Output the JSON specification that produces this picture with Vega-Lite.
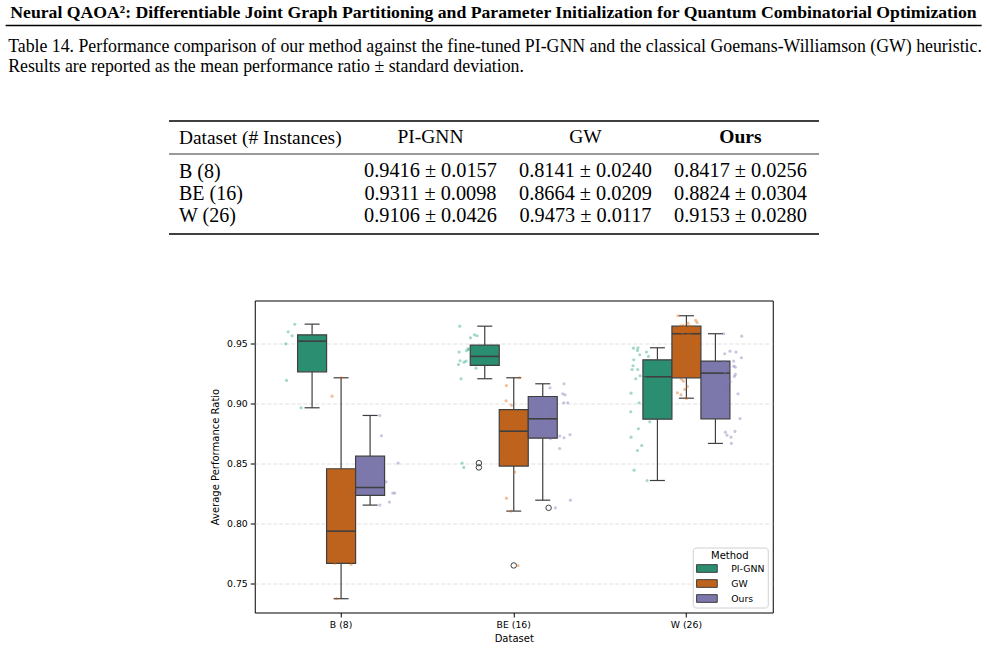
{
  "$schema": "https://vega.github.io/schema/vega-lite/v6.json",
  "background": "white",
  "padding": {"left": 5, "top": 4, "right": 0, "bottom": 0},
  "title": {
    "text": "Neural QAOA²: Differentiable Joint Graph Partitioning and Parameter Initialization for Quantum Combinatorial Optimization",
    "font": "Liberation Serif", "fontSize": 17.7, "fontWeight": "bold", "color": "#000",
    "anchor": "middle", "offset": 3
  },
  "config": {
    "view": {"stroke": null},
    "axis": {"labelColor": "#000", "titleColor": "#000", "tickColor": "#000"}
  },
  "datasets": {
    "thead": [
      {"hdr": "Dataset (# Instances)", "method": "PI-GNN"},
      {"hdr": "Dataset (# Instances)", "method": "GW"},
      {"hdr": "Dataset (# Instances)", "method": "Ours"}
    ],
    "tbody": [
      {"dataset": "B (8)", "method": "PI-GNN", "result": "0.9416 ± 0.0157"},
      {"dataset": "B (8)", "method": "GW", "result": "0.8141 ± 0.0240"},
      {"dataset": "B (8)", "method": "Ours", "result": "0.8417 ± 0.0256"},
      {"dataset": "BE (16)", "method": "PI-GNN", "result": "0.9311 ± 0.0098"},
      {"dataset": "BE (16)", "method": "GW", "result": "0.8664 ± 0.0209"},
      {"dataset": "BE (16)", "method": "Ours", "result": "0.8824 ± 0.0304"},
      {"dataset": "W (26)", "method": "PI-GNN", "result": "0.9106 ± 0.0426"},
      {"dataset": "W (26)", "method": "GW", "result": "0.9473 ± 0.0117"},
      {"dataset": "W (26)", "method": "Ours", "result": "0.9153 ± 0.0280"}
    ],
    "boxes": [
      {"dataset": "B (8)", "method": "PI-GNN", "lo": 0.8964, "q1": 0.9264, "median": 0.9519, "q3": 0.9572, "hi": 0.9661},
      {"dataset": "B (8)", "method": "GW", "lo": 0.7373, "q1": 0.7667, "median": 0.7936, "q3": 0.8456, "hi": 0.9214},
      {"dataset": "B (8)", "method": "Ours", "lo": 0.8153, "q1": 0.8234, "median": 0.83, "q3": 0.8561, "hi": 0.89},
      {"dataset": "BE (16)", "method": "PI-GNN", "lo": 0.9206, "q1": 0.9317, "median": 0.9392, "q3": 0.9486, "hi": 0.9644},
      {"dataset": "BE (16)", "method": "GW", "lo": 0.8103, "q1": 0.8478, "median": 0.8769, "q3": 0.8948, "hi": 0.9214},
      {"dataset": "BE (16)", "method": "Ours", "lo": 0.8194, "q1": 0.8711, "median": 0.8872, "q3": 0.9058, "hi": 0.9164},
      {"dataset": "W (26)", "method": "PI-GNN", "lo": 0.8358, "q1": 0.8869, "median": 0.9222, "q3": 0.9364, "hi": 0.9464},
      {"dataset": "W (26)", "method": "GW", "lo": 0.9044, "q1": 0.9214, "median": 0.9581, "q3": 0.9644, "hi": 0.9731},
      {"dataset": "W (26)", "method": "Ours", "lo": 0.8667, "q1": 0.8872, "median": 0.9253, "q3": 0.9353, "hi": 0.9581}
    ],
    "fliers": [
      {"dataset": "BE (16)", "method": "PI-GNN", "value": 0.8503},
      {"dataset": "BE (16)", "method": "PI-GNN", "value": 0.8467},
      {"dataset": "BE (16)", "method": "GW", "value": 0.765},
      {"dataset": "BE (16)", "method": "Ours", "value": 0.813}
    ],
    "points": [
      {"dataset": "B (8)", "method": "PI-GNN", "value": 0.966, "jitter": 0.04},
      {"dataset": "B (8)", "method": "PI-GNN", "value": 0.9597, "jitter": -0.63},
      {"dataset": "B (8)", "method": "PI-GNN", "value": 0.9564, "jitter": -0.23},
      {"dataset": "B (8)", "method": "PI-GNN", "value": 0.9545, "jitter": 0.75},
      {"dataset": "B (8)", "method": "PI-GNN", "value": 0.9497, "jitter": -0.86},
      {"dataset": "B (8)", "method": "PI-GNN", "value": 0.929, "jitter": 0.8},
      {"dataset": "B (8)", "method": "PI-GNN", "value": 0.9192, "jitter": -0.79},
      {"dataset": "B (8)", "method": "PI-GNN", "value": 0.8964, "jitter": 0.67},
      {"dataset": "B (8)", "method": "GW", "value": 0.9214, "jitter": 0.0},
      {"dataset": "B (8)", "method": "GW", "value": 0.9061, "jitter": -0.9},
      {"dataset": "B (8)", "method": "GW", "value": 0.8254, "jitter": -0.4},
      {"dataset": "B (8)", "method": "GW", "value": 0.7992, "jitter": 0.3},
      {"dataset": "B (8)", "method": "GW", "value": 0.788, "jitter": 0.17},
      {"dataset": "B (8)", "method": "GW", "value": 0.7669, "jitter": -0.63},
      {"dataset": "B (8)", "method": "GW", "value": 0.7658, "jitter": 1.0},
      {"dataset": "B (8)", "method": "GW", "value": 0.7373, "jitter": -0.46},
      {"dataset": "B (8)", "method": "Ours", "value": 0.89, "jitter": -0.8},
      {"dataset": "B (8)", "method": "Ours", "value": 0.8731, "jitter": -0.63},
      {"dataset": "B (8)", "method": "Ours", "value": 0.8503, "jitter": 1.03},
      {"dataset": "B (8)", "method": "Ours", "value": 0.8347, "jitter": -0.17},
      {"dataset": "B (8)", "method": "Ours", "value": 0.8253, "jitter": 0.5},
      {"dataset": "B (8)", "method": "Ours", "value": 0.8253, "jitter": 0.7},
      {"dataset": "B (8)", "method": "Ours", "value": 0.8178, "jitter": 0.17},
      {"dataset": "B (8)", "method": "Ours", "value": 0.8153, "jitter": -0.8},
      {"dataset": "BE (16)", "method": "PI-GNN", "value": 0.9644, "jitter": -0.73},
      {"dataset": "BE (16)", "method": "PI-GNN", "value": 0.9572, "jitter": 0.74},
      {"dataset": "BE (16)", "method": "PI-GNN", "value": 0.9564, "jitter": 1.0},
      {"dataset": "BE (16)", "method": "PI-GNN", "value": 0.9547, "jitter": 0.34},
      {"dataset": "BE (16)", "method": "PI-GNN", "value": 0.9456, "jitter": 0.1},
      {"dataset": "BE (16)", "method": "PI-GNN", "value": 0.945, "jitter": 0.17},
      {"dataset": "BE (16)", "method": "PI-GNN", "value": 0.9439, "jitter": -0.06},
      {"dataset": "BE (16)", "method": "PI-GNN", "value": 0.9428, "jitter": -0.8},
      {"dataset": "BE (16)", "method": "PI-GNN", "value": 0.9356, "jitter": -0.7},
      {"dataset": "BE (16)", "method": "PI-GNN", "value": 0.9353, "jitter": -0.1},
      {"dataset": "BE (16)", "method": "PI-GNN", "value": 0.9344, "jitter": -0.3},
      {"dataset": "BE (16)", "method": "PI-GNN", "value": 0.9325, "jitter": -0.86},
      {"dataset": "BE (16)", "method": "PI-GNN", "value": 0.9294, "jitter": 0.9},
      {"dataset": "BE (16)", "method": "PI-GNN", "value": 0.9206, "jitter": -0.6},
      {"dataset": "BE (16)", "method": "PI-GNN", "value": 0.8503, "jitter": -0.5},
      {"dataset": "BE (16)", "method": "PI-GNN", "value": 0.8467, "jitter": -0.33},
      {"dataset": "BE (16)", "method": "GW", "value": 0.9214, "jitter": 0.57},
      {"dataset": "BE (16)", "method": "GW", "value": 0.915, "jitter": -0.73},
      {"dataset": "BE (16)", "method": "GW", "value": 0.9022, "jitter": -0.77},
      {"dataset": "BE (16)", "method": "GW", "value": 0.8986, "jitter": -0.23},
      {"dataset": "BE (16)", "method": "GW", "value": 0.8935, "jitter": -0.4},
      {"dataset": "BE (16)", "method": "GW", "value": 0.8852, "jitter": 0.3},
      {"dataset": "BE (16)", "method": "GW", "value": 0.882, "jitter": -0.9},
      {"dataset": "BE (16)", "method": "GW", "value": 0.8798, "jitter": 0.8},
      {"dataset": "BE (16)", "method": "GW", "value": 0.874, "jitter": -0.1},
      {"dataset": "BE (16)", "method": "GW", "value": 0.866, "jitter": 0.6},
      {"dataset": "BE (16)", "method": "GW", "value": 0.856, "jitter": -0.5},
      {"dataset": "BE (16)", "method": "GW", "value": 0.8495, "jitter": 0.2},
      {"dataset": "BE (16)", "method": "GW", "value": 0.8428, "jitter": 0.1},
      {"dataset": "BE (16)", "method": "GW", "value": 0.8211, "jitter": -0.73},
      {"dataset": "BE (16)", "method": "GW", "value": 0.8103, "jitter": -0.27},
      {"dataset": "BE (16)", "method": "GW", "value": 0.765, "jitter": 0.43},
      {"dataset": "BE (16)", "method": "Ours", "value": 0.9164, "jitter": 0.36},
      {"dataset": "BE (16)", "method": "Ours", "value": 0.913, "jitter": -1.04},
      {"dataset": "BE (16)", "method": "Ours", "value": 0.908, "jitter": 0.23},
      {"dataset": "BE (16)", "method": "Ours", "value": 0.9072, "jitter": 0.46},
      {"dataset": "BE (16)", "method": "Ours", "value": 0.9006, "jitter": 0.33},
      {"dataset": "BE (16)", "method": "Ours", "value": 0.9006, "jitter": 0.73},
      {"dataset": "BE (16)", "method": "Ours", "value": 0.895, "jitter": -0.7},
      {"dataset": "BE (16)", "method": "Ours", "value": 0.8904, "jitter": -0.95},
      {"dataset": "BE (16)", "method": "Ours", "value": 0.884, "jitter": -0.9},
      {"dataset": "BE (16)", "method": "Ours", "value": 0.874, "jitter": 0.96},
      {"dataset": "BE (16)", "method": "Ours", "value": 0.8728, "jitter": -0.07},
      {"dataset": "BE (16)", "method": "Ours", "value": 0.8714, "jitter": 0.36},
      {"dataset": "BE (16)", "method": "Ours", "value": 0.8706, "jitter": -1.0},
      {"dataset": "BE (16)", "method": "Ours", "value": 0.8625, "jitter": -0.07},
      {"dataset": "BE (16)", "method": "Ours", "value": 0.8194, "jitter": 1.0},
      {"dataset": "BE (16)", "method": "Ours", "value": 0.813, "jitter": -0.5},
      {"dataset": "W (26)", "method": "PI-GNN", "value": 0.9464, "jitter": -0.17},
      {"dataset": "W (26)", "method": "PI-GNN", "value": 0.9461, "jitter": -0.63},
      {"dataset": "W (26)", "method": "PI-GNN", "value": 0.9442, "jitter": -0.23},
      {"dataset": "W (26)", "method": "PI-GNN", "value": 0.9428, "jitter": 0.67},
      {"dataset": "W (26)", "method": "PI-GNN", "value": 0.9406, "jitter": 0.0},
      {"dataset": "W (26)", "method": "PI-GNN", "value": 0.9392, "jitter": 0.87},
      {"dataset": "W (26)", "method": "PI-GNN", "value": 0.9364, "jitter": -0.6},
      {"dataset": "W (26)", "method": "PI-GNN", "value": 0.9314, "jitter": -0.67},
      {"dataset": "W (26)", "method": "PI-GNN", "value": 0.93, "jitter": 0.9},
      {"dataset": "W (26)", "method": "PI-GNN", "value": 0.9283, "jitter": -0.77},
      {"dataset": "W (26)", "method": "PI-GNN", "value": 0.9283, "jitter": -0.2},
      {"dataset": "W (26)", "method": "PI-GNN", "value": 0.928, "jitter": 0.6},
      {"dataset": "W (26)", "method": "PI-GNN", "value": 0.925, "jitter": 0.8},
      {"dataset": "W (26)", "method": "PI-GNN", "value": 0.9231, "jitter": 0.03},
      {"dataset": "W (26)", "method": "PI-GNN", "value": 0.9215, "jitter": 0.5},
      {"dataset": "W (26)", "method": "PI-GNN", "value": 0.9206, "jitter": -0.4},
      {"dataset": "W (26)", "method": "PI-GNN", "value": 0.9086, "jitter": -0.87},
      {"dataset": "W (26)", "method": "PI-GNN", "value": 0.9006, "jitter": -0.07},
      {"dataset": "W (26)", "method": "PI-GNN", "value": 0.8931, "jitter": -0.9},
      {"dataset": "W (26)", "method": "PI-GNN", "value": 0.8847, "jitter": 1.0},
      {"dataset": "W (26)", "method": "PI-GNN", "value": 0.8789, "jitter": -0.13},
      {"dataset": "W (26)", "method": "PI-GNN", "value": 0.8719, "jitter": -0.87},
      {"dataset": "W (26)", "method": "PI-GNN", "value": 0.865, "jitter": 0.2},
      {"dataset": "W (26)", "method": "PI-GNN", "value": 0.8608, "jitter": -0.23},
      {"dataset": "W (26)", "method": "PI-GNN", "value": 0.8444, "jitter": -0.57},
      {"dataset": "W (26)", "method": "PI-GNN", "value": 0.8358, "jitter": 0.73},
      {"dataset": "W (26)", "method": "GW", "value": 0.9731, "jitter": -0.84},
      {"dataset": "W (26)", "method": "GW", "value": 0.9692, "jitter": 0.93},
      {"dataset": "W (26)", "method": "GW", "value": 0.9675, "jitter": 1.06},
      {"dataset": "W (26)", "method": "GW", "value": 0.9667, "jitter": 0.16},
      {"dataset": "W (26)", "method": "GW", "value": 0.965, "jitter": -0.34},
      {"dataset": "W (26)", "method": "GW", "value": 0.9645, "jitter": -0.6},
      {"dataset": "W (26)", "method": "GW", "value": 0.9643, "jitter": 0.4},
      {"dataset": "W (26)", "method": "GW", "value": 0.9638, "jitter": -0.2},
      {"dataset": "W (26)", "method": "GW", "value": 0.963, "jitter": 0.7},
      {"dataset": "W (26)", "method": "GW", "value": 0.9618, "jitter": 0.1},
      {"dataset": "W (26)", "method": "GW", "value": 0.9605, "jitter": -0.8},
      {"dataset": "W (26)", "method": "GW", "value": 0.9595, "jitter": 0.5},
      {"dataset": "W (26)", "method": "GW", "value": 0.9587, "jitter": -0.4},
      {"dataset": "W (26)", "method": "GW", "value": 0.9575, "jitter": 0.2},
      {"dataset": "W (26)", "method": "GW", "value": 0.9525, "jitter": -0.97},
      {"dataset": "W (26)", "method": "GW", "value": 0.9519, "jitter": 0.93},
      {"dataset": "W (26)", "method": "GW", "value": 0.95, "jitter": 0.8},
      {"dataset": "W (26)", "method": "GW", "value": 0.942, "jitter": -0.6},
      {"dataset": "W (26)", "method": "GW", "value": 0.9247, "jitter": 0.3},
      {"dataset": "W (26)", "method": "GW", "value": 0.9203, "jitter": -0.5},
      {"dataset": "W (26)", "method": "GW", "value": 0.9186, "jitter": -0.3},
      {"dataset": "W (26)", "method": "GW", "value": 0.9142, "jitter": 0.1},
      {"dataset": "W (26)", "method": "GW", "value": 0.9117, "jitter": -0.17},
      {"dataset": "W (26)", "method": "GW", "value": 0.9089, "jitter": -0.9},
      {"dataset": "W (26)", "method": "GW", "value": 0.9072, "jitter": -0.54},
      {"dataset": "W (26)", "method": "GW", "value": 0.9042, "jitter": 0.0},
      {"dataset": "W (26)", "method": "Ours", "value": 0.9581, "jitter": -0.94},
      {"dataset": "W (26)", "method": "Ours", "value": 0.9561, "jitter": 0.86},
      {"dataset": "W (26)", "method": "Ours", "value": 0.9436, "jitter": -0.31},
      {"dataset": "W (26)", "method": "Ours", "value": 0.9428, "jitter": 0.29},
      {"dataset": "W (26)", "method": "Ours", "value": 0.9414, "jitter": -0.84},
      {"dataset": "W (26)", "method": "Ours", "value": 0.9381, "jitter": 0.83},
      {"dataset": "W (26)", "method": "Ours", "value": 0.9353, "jitter": 0.06},
      {"dataset": "W (26)", "method": "Ours", "value": 0.935, "jitter": -0.95},
      {"dataset": "W (26)", "method": "Ours", "value": 0.9311, "jitter": 0.06},
      {"dataset": "W (26)", "method": "Ours", "value": 0.9303, "jitter": 0.23},
      {"dataset": "W (26)", "method": "Ours", "value": 0.929, "jitter": -0.5},
      {"dataset": "W (26)", "method": "Ours", "value": 0.926, "jitter": -0.8},
      {"dataset": "W (26)", "method": "Ours", "value": 0.9242, "jitter": 0.23},
      {"dataset": "W (26)", "method": "Ours", "value": 0.9225, "jitter": 0.13},
      {"dataset": "W (26)", "method": "Ours", "value": 0.918, "jitter": -0.3},
      {"dataset": "W (26)", "method": "Ours", "value": 0.912, "jitter": -0.7},
      {"dataset": "W (26)", "method": "Ours", "value": 0.9081, "jitter": 0.49},
      {"dataset": "W (26)", "method": "Ours", "value": 0.905, "jitter": -0.4},
      {"dataset": "W (26)", "method": "Ours", "value": 0.896, "jitter": -0.9},
      {"dataset": "W (26)", "method": "Ours", "value": 0.889, "jitter": -0.5},
      {"dataset": "W (26)", "method": "Ours", "value": 0.8875, "jitter": 0.69},
      {"dataset": "W (26)", "method": "Ours", "value": 0.8767, "jitter": 0.19},
      {"dataset": "W (26)", "method": "Ours", "value": 0.8761, "jitter": -0.77},
      {"dataset": "W (26)", "method": "Ours", "value": 0.8736, "jitter": -0.61},
      {"dataset": "W (26)", "method": "Ours", "value": 0.8719, "jitter": -0.21},
      {"dataset": "W (26)", "method": "Ours", "value": 0.8667, "jitter": -0.17}
    ]
  },
  "spacing": 44.5,
  "center": true,
  "resolve": {"scale": {"color": "independent"}, "legend": {"color": "independent"}},
  "vconcat": [
    {
      "width": 976,
      "height": 1,
      "title": {
        "text": ["Table 14. Performance comparison of our method against the fine-tuned PI-GNN and the classical Goemans-Williamson (GW) heuristic.", "Results are reported as the mean performance ratio ± standard deviation."],
        "orient": "bottom", "anchor": "start", "dx": 3, "offset": 11.5,
        "font": "Liberation Serif", "fontSize": 17.8, "fontWeight": "normal", "color": "#000", "lineHeight": 20
      },
      "data": {"values": []},
      "mark": {"type": "text"},
      "encoding": {
        "x": {"field": "k", "type": "quantitative", "scale": {"domain": [0, 1]},
          "axis": {"orient": "top", "labels": false, "ticks": false, "grid": false, "title": null, "domain": true, "domainColor": "#000", "domainWidth": 1.5}}
      }
    },
    {
      "spacing": 66,
      "center": true,
      "resolve": {"scale": {"color": "independent"}, "legend": {"color": "independent"}},
      "vconcat": [
        {
          "spacing": 0,
          "vconcat": [
            {
              "width": 650,
              "height": 33,
              "data": {"name": "thead"},
              "encoding": {
                "x": {"field": "method", "type": "nominal",
                  "scale": {"type": "point", "domain": ["_", "PI-GNN", "GW", "Ours"], "padding": 0.597, "align": 0.578},
                  "axis": {"orient": "top", "labels": false, "ticks": false, "title": null, "grid": false, "domain": true, "domainColor": "#000", "domainWidth": 1.6}},
                "y": {"field": "hdr", "type": "nominal", "scale": {"type": "point", "padding": 0.5},
                  "axis": {"title": null, "domain": false, "ticks": false, "tickSize": 0, "labelPadding": -10, "labelAlign": "left", "labelFont": "Liberation Serif", "labelFontSize": 19.4, "labelColor": "#000", "labelLimit": 0}},
                "text": {"field": "method"}
              },
              "layer": [
                {"transform": [{"filter": "datum.method !== 'Ours'"}], "mark": {"type": "text", "font": "Liberation Serif", "fontSize": 19.5, "color": "#000"}},
                {"transform": [{"filter": "datum.method === 'Ours'"}], "mark": {"type": "text", "font": "Liberation Serif", "fontSize": 19.5, "fontWeight": "bold", "color": "#000"}}
              ]
            },
            {
              "width": 650,
              "height": 80,
              "layer": [
                {
                  "data": {"name": "tbody"},
                  "mark": {"type": "text", "font": "Liberation Serif", "fontSize": 20.3, "color": "#000"},
                  "encoding": {
                    "x": {"field": "method", "type": "nominal",
                      "scale": {"type": "point", "domain": ["_", "PI-GNN", "GW", "Ours"], "padding": 0.597, "align": 0.578},
                      "axis": {"orient": "top", "labels": false, "ticks": false, "title": null, "grid": false, "domain": true, "domainColor": "#000", "domainWidth": 0.8}},
                    "y": {"field": "dataset", "type": "nominal",
                      "scale": {"type": "point", "domain": ["B (8)", "BE (16)", "W (26)"], "padding": 0.778},
                      "axis": {"title": null, "domain": false, "ticks": false, "tickSize": 0, "labelPadding": -10, "labelAlign": "left", "labelFont": "Liberation Serif", "labelFontSize": 20, "labelColor": "#000", "labelLimit": 0}},
                    "text": {"field": "result"}
                  }
                },
                {
                  "data": {"values": []},
                  "mark": {"type": "text"},
                  "encoding": {
                    "x": {"field": "method", "type": "nominal",
                      "scale": {"type": "point", "domain": ["_", "PI-GNN", "GW", "Ours"], "padding": 0.597, "align": 0.578},
                      "axis": {"orient": "bottom", "labels": false, "ticks": false, "title": null, "grid": false, "domain": true, "domainColor": "#000", "domainWidth": 1.6}}
                  }
                }
              ],
              "resolve": {"axis": {"x": "independent"}}
            }
          ]
        },
        {
          "bounds": "flush",
          "spacing": 40,
          "resolve": {"scale": {"color": "independent"}, "legend": {"color": "independent"}},
          "hconcat": [
            {
              "width": 1,
              "height": 312,
              "data": {"values": []},
              "mark": {"type": "text"},
              "encoding": {}
            },
            {
              "width": 518,
              "height": 312,
              "view": {"stroke": "#000", "strokeWidth": 1},
              "encoding": {
                "x": {"field": "dataset", "type": "nominal", "sort": ["B (8)", "BE (16)", "W (26)"],
                  "scale": {"domain": ["B (8)", "BE (16)", "W (26)"], "paddingInner": 0, "paddingOuter": 0},
                  "axis": {"title": "Dataset", "labelAngle": 0, "domain": false, "grid": false, "ticks": true, "tickSize": 4.5, "tickWidth": 1, "tickColor": "#000", "labelPadding": 3, "labelFont": "DejaVu Sans", "labelFontSize": 9.3, "labelColor": "#000", "titleFont": "DejaVu Sans", "titleFontSize": 10, "titleFontWeight": "normal", "titleColor": "#000", "titlePadding": 4}}
              },
              "layer": [
                {
                  "data": {"name": "boxes"},
                  "mark": {"type": "rule", "color": "#3f3f3f", "strokeWidth": 1.2},
                  "encoding": {
                    "xOffset": {"field": "method", "type": "nominal", "scale": {"domain": ["_l", "PI-GNN", "GW", "Ours", "_r"], "paddingInner": 0, "paddingOuter": 0.477}},
                    "y": {"field": "lo", "type": "quantitative", "title": "Average Performance Ratio",
                      "scale": {"domain": [0.7258, 0.9858], "nice": false, "zero": false},
                      "axis": {"values": [0.75, 0.8, 0.85, 0.9, 0.95], "format": ".2f", "domain": false, "grid": true, "gridDash": [4, 2], "gridColor": "#d8d8d8", "gridWidth": 0.8, "tickSize": 4.5, "tickColor": "#000", "labelPadding": 3, "labelFont": "DejaVu Sans", "labelFontSize": 9.3, "labelColor": "#000", "titleFont": "DejaVu Sans", "titleFontSize": 10, "titleFontWeight": "normal", "titleColor": "#000", "titlePadding": 6}},
                    "y2": {"field": "q1"}
                  }
                },
                {
                  "data": {"name": "boxes"},
                  "mark": {"type": "rule", "color": "#3f3f3f", "strokeWidth": 1.2},
                  "encoding": {
                    "xOffset": {"field": "method", "type": "nominal", "scale": {"domain": ["_l", "PI-GNN", "GW", "Ours", "_r"], "paddingInner": 0, "paddingOuter": 0.477}},
                    "y": {"field": "q3", "type": "quantitative", "title": "Average Performance Ratio", "scale": {"domain": [0.7258, 0.9858], "nice": false, "zero": false}},
                    "y2": {"field": "hi"}
                  }
                },
                {
                  "data": {"name": "boxes"},
                  "mark": {"type": "tick", "color": "#3f3f3f", "size": 15, "thickness": 1.2, "opacity": 1},
                  "encoding": {
                    "xOffset": {"field": "method", "type": "nominal", "scale": {"domain": ["_l", "PI-GNN", "GW", "Ours", "_r"], "paddingInner": 0, "paddingOuter": 0.477}},
                    "y": {"field": "lo", "type": "quantitative", "title": "Average Performance Ratio", "scale": {"domain": [0.7258, 0.9858], "nice": false, "zero": false}}
                  }
                },
                {
                  "data": {"name": "boxes"},
                  "mark": {"type": "tick", "color": "#3f3f3f", "size": 15, "thickness": 1.2, "opacity": 1},
                  "encoding": {
                    "xOffset": {"field": "method", "type": "nominal", "scale": {"domain": ["_l", "PI-GNN", "GW", "Ours", "_r"], "paddingInner": 0, "paddingOuter": 0.477}},
                    "y": {"field": "hi", "type": "quantitative", "title": "Average Performance Ratio", "scale": {"domain": [0.7258, 0.9858], "nice": false, "zero": false}}
                  }
                },
                {
                  "data": {"name": "boxes"},
                  "mark": {"type": "bar", "stroke": "#3f3f3f", "strokeWidth": 1.2, "opacity": 1},
                  "encoding": {
                    "xOffset": {"field": "method", "type": "nominal", "scale": {"domain": ["_l", "PI-GNN", "GW", "Ours", "_r"], "paddingInner": 0, "paddingOuter": 0.477}},
                    "y": {"field": "q1", "type": "quantitative", "title": "Average Performance Ratio", "scale": {"domain": [0.7258, 0.9858], "nice": false, "zero": false}},
                    "y2": {"field": "q3"},
                    "color": {"field": "method", "type": "nominal", "sort": ["PI-GNN", "GW", "Ours"],
                      "scale": {"domain": ["PI-GNN", "GW", "Ours"], "range": ["#2b8e70", "#be631d", "#7c78ab"]},
                      "legend": {"title": "Method", "orient": "bottom-right", "offset": 5, "titleFont": "DejaVu Sans", "titleFontSize": 10, "titleFontWeight": "normal", "titleColor": "#000", "titleAnchor": "middle", "titlePadding": 2, "labelFont": "DejaVu Sans", "labelFontSize": 9.3, "labelColor": "#000", "labelOffset": 18.3, "symbolOffset": 5.17, "symbolType": "M-2,-0.744L2,-0.744L2,0.744L-2,0.744Z", "symbolSize": 107, "symbolStrokeColor": "#3f3f3f", "symbolStrokeWidth": 1, "symbolOpacity": 1, "rowPadding": 3, "padding": 3, "fillColor": "#ffffff", "strokeColor": "#d0d0d0", "cornerRadius": 3}}
                  }
                },
                {
                  "data": {"name": "boxes"},
                  "mark": {"type": "tick", "color": "#3f3f3f", "size": 29, "thickness": 1.6, "opacity": 1},
                  "encoding": {
                    "xOffset": {"field": "method", "type": "nominal", "scale": {"domain": ["_l", "PI-GNN", "GW", "Ours", "_r"], "paddingInner": 0, "paddingOuter": 0.477}},
                    "y": {"field": "median", "type": "quantitative", "title": "Average Performance Ratio", "scale": {"domain": [0.7258, 0.9858], "nice": false, "zero": false}}
                  }
                },
                {
                  "data": {"name": "fliers"},
                  "mark": {"type": "point", "shape": "circle", "filled": false, "stroke": "#3f3f3f", "strokeWidth": 1, "size": 30, "opacity": 1},
                  "encoding": {
                    "xOffset": {"field": "method", "type": "nominal", "scale": {"domain": ["_l", "PI-GNN", "GW", "Ours", "_r"], "paddingInner": 0, "paddingOuter": 0.477}},
                    "y": {"field": "value", "type": "quantitative", "title": "Average Performance Ratio", "scale": {"domain": [0.7258, 0.9858], "nice": false, "zero": false}}
                  }
                },
                {
                  "data": {"name": "points"},
                  "transform": [{"filter": "datum.method === 'PI-GNN'"}],
                  "mark": {"type": "circle", "color": "#1b9e77", "opacity": 0.4, "size": 10},
                  "encoding": {
                    "xOffset": {"field": "jitter", "type": "quantitative", "scale": {"domain": [-3.9667, 13.3], "nice": false, "zero": false}},
                    "y": {"field": "value", "type": "quantitative", "title": "Average Performance Ratio", "scale": {"domain": [0.7258, 0.9858], "nice": false, "zero": false}}
                  }
                },
                {
                  "data": {"name": "points"},
                  "transform": [{"filter": "datum.method === 'GW'"}],
                  "mark": {"type": "circle", "color": "#d95f02", "opacity": 0.4, "size": 10},
                  "encoding": {
                    "xOffset": {"field": "jitter", "type": "quantitative", "scale": {"domain": [-8.6333, 8.6333], "nice": false, "zero": false}},
                    "y": {"field": "value", "type": "quantitative", "title": "Average Performance Ratio", "scale": {"domain": [0.7258, 0.9858], "nice": false, "zero": false}}
                  }
                },
                {
                  "data": {"name": "points"},
                  "transform": [{"filter": "datum.method === 'Ours'"}],
                  "mark": {"type": "circle", "color": "#7570b3", "opacity": 0.4, "size": 10},
                  "encoding": {
                    "xOffset": {"field": "jitter", "type": "quantitative", "scale": {"domain": [-13.3, 3.9667], "nice": false, "zero": false}},
                    "y": {"field": "value", "type": "quantitative", "title": "Average Performance Ratio", "scale": {"domain": [0.7258, 0.9858], "nice": false, "zero": false}}
                  }
                }
              ],
              "resolve": {"scale": {"xOffset": "independent"}}
            }
          ]
        }
      ]
    }
  ]
}
